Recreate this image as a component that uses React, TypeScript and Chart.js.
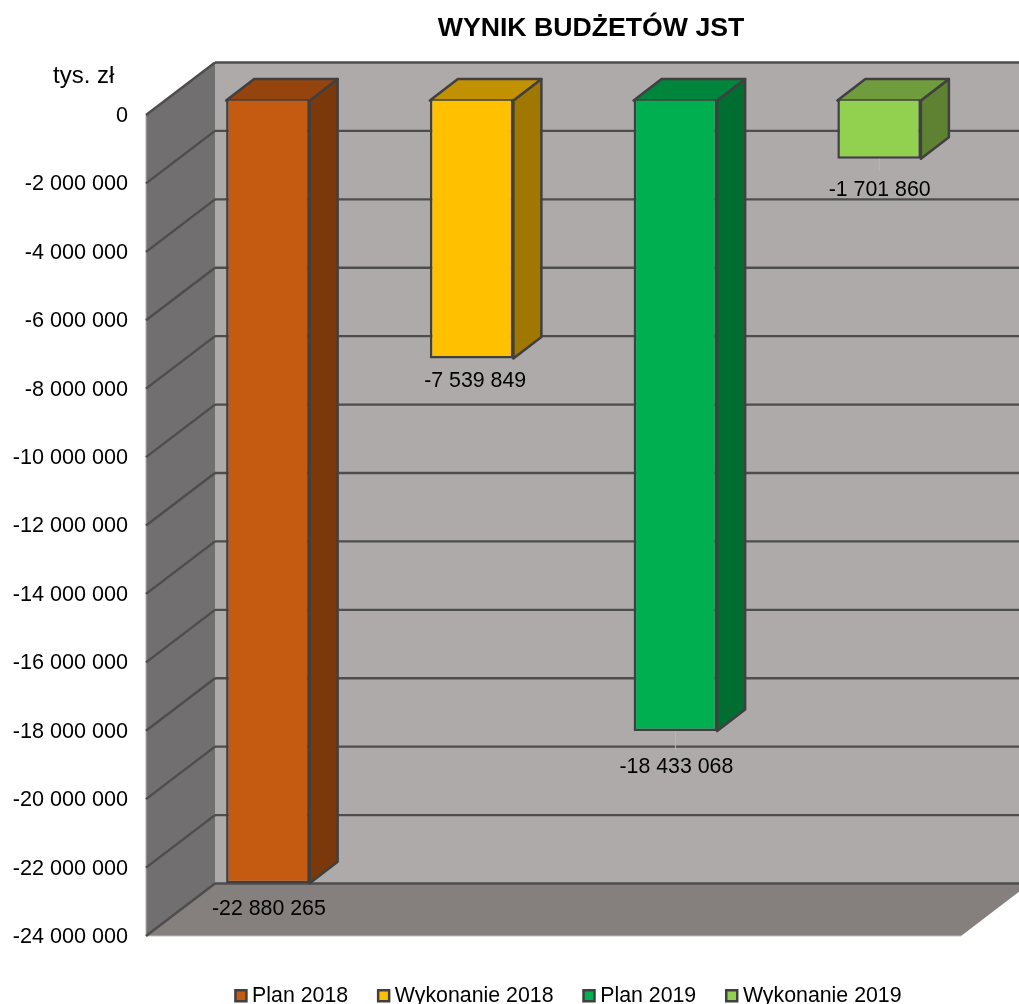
import React, { useEffect, useRef } from "react";
import { Chart, registerables } from "chart.js";

Chart.register(...registerables);

const categories = ["Wynik"];
const seriesNames = ["Plan 2018", "Wykonanie 2018", "Plan 2019", "Wykonanie 2019"];
const seriesValues = [-22880265, -7539849, -18433068, -1701860];
const frontColors = ["#C55A11", "#FFC000", "#00B050", "#92D050"];
const topColors = ["#95440D", "#C19100", "#00853C", "#6F9D3D"];
const sideColors = ["#7B380B", "#A07800", "#006E31", "#5E8232"];
const labelOffsets = [25.5, 22.5, 36.5, 31.5];
const labelShifts = [1, 3.5, 1, 0.5];
const leaderLengths = [0, 0, 20, 12];
const FONT = '"Liberation Sans", Arial, sans-serif';
const FONT_SIZE = 21.33;
const LINE = "#4D4D4D";
const EDGE = "#404040";
const WALL = { dx: 69, dy: -52.5 };
const PLANE = { dx: 20, dy: -14.5 };
const BAR = { dx: 28, dy: -21.5 };

const fmt = (v: number) =>
  (v < 0 ? "-" : "") + Math.abs(v).toString().replace(/\B(?=(\d{3})+(?!\d))/g, " ");

const poly = (ctx: any, pts: number[][], fill: string | null, stroke?: string, lw = 2.5) => {
  ctx.beginPath();
  pts.forEach((p, i) => (i ? ctx.lineTo(p[0], p[1]) : ctx.moveTo(p[0], p[1])));
  ctx.closePath();
  if (fill) {
    ctx.fillStyle = fill;
    ctx.fill();
  }
  if (stroke) {
    ctx.strokeStyle = stroke;
    ctx.lineWidth = lw;
    ctx.lineJoin = "round";
    ctx.stroke();
  }
};

const seg = (ctx: any, x1: number, y1: number, x2: number, y2: number, c: string, lw: number) => {
  ctx.beginPath();
  ctx.moveTo(x1, y1);
  ctx.lineTo(x2, y2);
  ctx.strokeStyle = c;
  ctx.lineWidth = lw;
  ctx.stroke();
};

const scene: any = {
  id: "scene3d",
  beforeLayout(chart: any) {
    const lg = chart.legend;
    if (lg && !lg.__patched) {
      const orig = lg.fit;
      lg.fit = function () {
        orig.call(this);
        this.height = 68;
      };
      lg.__patched = true;
    }
  },
  afterLayout(chart: any) {
    const lg = chart.legend;
    lg.left += 90.5;
    lg.right += 90.5;
    lg.top += 14;
    lg.bottom += 14;
  },
  beforeDatasetsDraw(chart: any) {
    const { ctx, chartArea: a, scales } = chart;
    const y = scales.y;
    const W = chart.width + 80;
    ctx.save();
    const top = y.getPixelForValue(0);
    const bot = y.getPixelForValue(-24000000);
    poly(ctx, [[a.left + WALL.dx, top + WALL.dy], [W, top + WALL.dy], [W, bot + WALL.dy], [a.left + WALL.dx, bot + WALL.dy]], "#AEAAAA");
    poly(ctx, [[a.left, top], [a.left + WALL.dx, top + WALL.dy], [a.left + WALL.dx, bot + WALL.dy], [a.left, bot]], "#716F6F");
    poly(ctx, [[a.left, bot], [a.left + WALL.dx, bot + WALL.dy], [a.right + WALL.dx, bot + WALL.dy], [a.right, bot]], "#857F7D");
    seg(ctx, a.left, bot, a.right, bot, "#C4C2C2", 1);
    seg(ctx, a.left, top, a.left, bot, "#B4B2B2", 1);
    for (const t of y.ticks) {
      const p = y.getPixelForValue(t.value);
      seg(ctx, a.left, p, a.left + WALL.dx, p + WALL.dy, LINE, 2.4);
      seg(ctx, a.left + WALL.dx, p + WALL.dy, W, p + WALL.dy, LINE, 2.4);
    }
    seriesValues.forEach((_, i) => {
      const el = chart.getDatasetMeta(i).data[0];
      const { x, y: yv, base, width } = el.getProps(["x", "y", "base", "width"], true);
      const l = x - width / 2 + PLANE.dx;
      const r = x + width / 2 + PLANE.dx;
      const t = base + PLANE.dy;
      const b = yv + PLANE.dy;
      poly(ctx, [[r, t], [r + BAR.dx, t + BAR.dy], [r + BAR.dx, b + BAR.dy], [r, b]], sideColors[i], EDGE);
      poly(ctx, [[l, t], [l + BAR.dx, t + BAR.dy], [r + BAR.dx, t + BAR.dy], [r, t]], topColors[i], EDGE);
    });
    ctx.restore();
  },
  beforeDatasetDraw(chart: any) {
    chart.ctx.save();
    chart.ctx.translate(PLANE.dx, PLANE.dy);
  },
  afterDatasetDraw(chart: any) {
    chart.ctx.restore();
  },
  afterDatasetsDraw(chart: any) {
    const { ctx } = chart;
    ctx.save();
    seriesValues.forEach((v, i) => {
      const el = chart.getDatasetMeta(i).data[0];
      const { x, y: yv } = el.getProps(["x", "y"], true);
      const cx = x + PLANE.dx;
      const by = yv + PLANE.dy;
      if (leaderLengths[i]) seg(ctx, cx, by, cx, by + leaderLengths[i], "#B9B7B7", 1);
      ctx.fillStyle = "#000";
      ctx.font = `${FONT_SIZE}px ${FONT}`;
      ctx.textAlign = "center";
      ctx.textBaseline = "middle";
      ctx.fillText(fmt(v), cx + labelShifts[i], by + labelOffsets[i]);
    });
    ctx.restore();
  },
  afterDraw(chart: any) {
    const { ctx } = chart;
    ctx.save();
    ctx.fillStyle = "#000";
    ctx.textBaseline = "middle";
    ctx.textAlign = "center";
    ctx.font = `bold 26.67px ${FONT}`;
    ctx.fillText("WYNIK BUDŻETÓW JST", 591, 29);
    ctx.font = `24px ${FONT}`;
    ctx.textAlign = "left";
    ctx.fillText("tys. zł", 53, 76);
    ctx.restore();
  },
};

export default function App() {
  const ref = useRef<HTMLCanvasElement>(null);
  useEffect(() => {
    document.body.style.margin = "0";
    const chart = new Chart(ref.current as HTMLCanvasElement, {
      type: "bar",
      data: {
        labels: categories,
        datasets: seriesNames.map((name, i) => ({
          label: name,
          data: [seriesValues[i]],
          backgroundColor: frontColors[i],
          borderColor: EDGE,
          borderWidth: 2.5,
          barPercentage: 0.41,
          categoryPercentage: 1,
          clip: false as any,
        })),
      },
      options: {
        responsive: false,
        animation: false,
        layout: { padding: { top: 115, right: 58, left: 0, bottom: 0 } },
        plugins: {
          title: { display: false },
          tooltip: { enabled: false },
          legend: {
            position: "bottom",
            labels: {
              usePointStyle: true,
              pointStyle: "rect",
              boxWidth: 1,
              boxHeight: 11,
              padding: 35,
              color: "#000",
              font: { family: FONT, size: FONT_SIZE },
            },
          },
        },
        scales: {
          x: { display: false },
          y: {
            min: -24000000,
            max: 0,
            afterFit: (s: any) => {
              s.width = 146;
            },
            grid: { display: false, drawTicks: false },
            border: { display: false },
            ticks: {
              stepSize: 2000000,
              padding: 18,
              labelOffset: 1,
              color: "#000",
              font: { family: FONT, size: 21.6 },
              callback: (v: any) => fmt(Number(v)),
            },
          },
        },
      },
      plugins: [scene],
    });
    return () => chart.destroy();
  }, []);
  return <canvas ref={ref} width={1019} height={1004} style={{ display: "block" }} />;
}
